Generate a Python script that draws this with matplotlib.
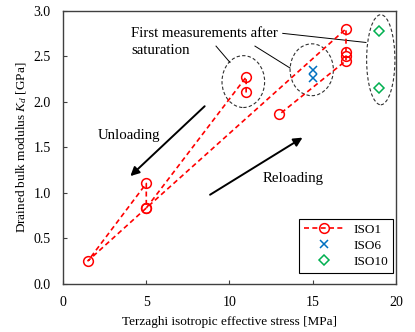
import matplotlib
matplotlib.use('Agg')
import matplotlib.pyplot as plt
from matplotlib.patches import Ellipse

plt.rcParams['font.family'] = ['Liberation Serif', 'DejaVu Serif']
plt.rcParams['mathtext.fontset'] = 'custom'
plt.rcParams['mathtext.rm'] = 'Liberation Serif'
plt.rcParams['mathtext.it'] = 'Liberation Serif:italic'

# ISO1 test path (MPa, GPa)
iso1_x = [11, 11, 5, 5, 1.5, 5, 17, 17, 17, 17, 13]
iso1_y = [2.10, 2.27, 0.83, 1.10, 0.25, 0.83, 2.80, 2.55, 2.50, 2.45, 1.86]

# ISO6 and ISO10
iso6_x = [15, 15]
iso6_y = [2.35, 2.26]
iso10_x = [19, 19]
iso10_y = [2.78, 2.15]

x_ticks = [0, 5, 10, 15, 20]
y_ticks = [0.0, 0.5, 1.0, 1.5, 2.0, 2.5, 3.0]

fs = 9.5
fs_note = 10.7
red = '#FF0000'
blue = '#0070C0'
green = '#00B050'
spine_col = '#404040'

fig = plt.figure(figsize=(4.15, 3.32), dpi=100)
ax = fig.add_axes([0.152, 0.146, 0.802, 0.822])

ax.plot(iso1_x, iso1_y, linestyle=(0, (3, 2)), color=red, lw=1.2,
        marker='o', markersize=7, markerfacecolor='none', markeredgecolor=red,
        markeredgewidth=1.1, label='ISO1', zorder=3)
ax.plot(iso6_x, iso6_y, linestyle='none', marker='x', markersize=6,
        color=blue, markeredgewidth=1.1, label='ISO6', zorder=3)
ax.plot(iso10_x, iso10_y, linestyle='none', marker='D', markersize=5,
        markerfacecolor='none', markeredgecolor=green, markeredgewidth=1.1,
        label='ISO10', zorder=3)

# dashed ellipses around the first measurements after saturation
for cx, cy, w, h in [(10.83, 2.22, 2.56, 0.57), (14.94, 2.35, 2.6, 0.57), (19.09, 2.46, 1.7, 0.99)]:
    ax.add_patch(Ellipse((cx, cy), w, h, fill=False, ls=(0, (3, 2)), lw=0.8,
                         edgecolor='#303030', zorder=2))

ax.text(4.1, 2.745, 'First measurements after', fontsize=fs_note, va='center', ha='left')
ax.text(4.1, 2.56, 'saturation', fontsize=fs_note, va='center', ha='left')
for x0, y0, x1, y1 in [(13.2, 2.75, 18.2, 2.65), (11.53, 2.61, 13.63, 2.37), (9.19, 2.61, 10.03, 2.43)]:
    ax.plot([x0, x1], [y0, y1], color='black', lw=0.7)

# loading direction arrows
ax.annotate('', xy=(3.92, 1.16), xytext=(8.63, 1.97),
            arrowprops=dict(arrowstyle='-|>', color='black', lw=1.4, mutation_scale=13))
ax.annotate('', xy=(14.53, 1.62), xytext=(8.69, 0.96),
            arrowprops=dict(arrowstyle='-|>', color='black', lw=1.4, mutation_scale=13))
ax.text(3.97, 1.63, 'Unloading', fontsize=fs_note, ha='center', va='center')
ax.text(13.84, 1.16, 'Reloading', fontsize=fs_note, ha='center', va='center')

ax.set_xlim(0, 20)
ax.set_ylim(0, 3.0)
ax.set_xticks(x_ticks)
ax.set_yticks(y_ticks)
ax.set_yticklabels([f'{v:.1f}' for v in y_ticks])
ax.tick_params(direction='in', length=3, width=0.8, color=spine_col, labelsize=10, pad=9)
for s in ax.spines.values():
    s.set_color(spine_col)
    s.set_linewidth(1.0)

ax.set_xlabel('Terzaghi isotropic effective stress [MPa]', fontsize=fs, labelpad=5)
ax.set_ylabel('Drained bulk modulus $K_d$ [GPa]', fontsize=fs, labelpad=3)

leg = ax.legend(loc='lower right', fontsize=fs, frameon=True, fancybox=False,
                edgecolor='black', framealpha=1, handlelength=3, borderpad=0.35,
                labelspacing=0.3, borderaxespad=0.2, bbox_to_anchor=(1.0, 0.03))
leg.get_frame().set_linewidth(0.8)

fig.savefig('out.png', dpi=100)
